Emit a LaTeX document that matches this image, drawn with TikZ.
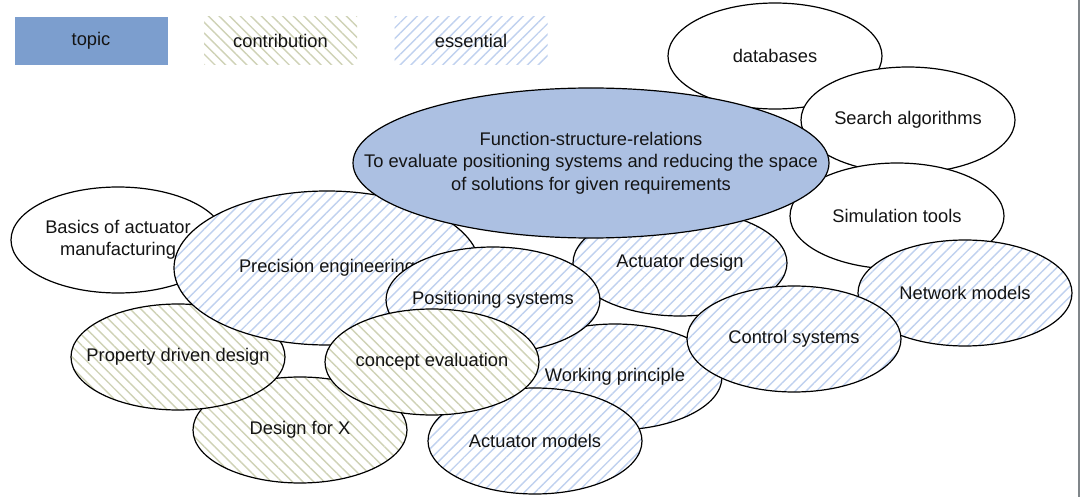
\documentclass[tikz,border=0pt]{standalone}
\usepackage{fontspec}
\setmainfont{Liberation Sans}
\usetikzlibrary{shapes.geometric,patterns.meta}
\definecolor{topicblue}{RGB}{124,158,206}
\definecolor{mainblue}{RGB}{172,192,226}
\definecolor{hatchblue}{RGB}{192,209,239}
\definecolor{hatcholive}{RGB}{207,210,182}
\definecolor{txt}{RGB}{20,20,20}
\definecolor{edgegray}{RGB}{128,134,138}
\begin{document}
\begin{tikzpicture}[x=1pt,y=-1pt,
  every node/.style={font=\fontsize{18.3}{22.5}\selectfont, text=txt, align=center, inner sep=0pt},
  esshatch/.style={preaction={fill=white}, pattern={Lines[angle=45,distance=7.5pt,line width=1.4pt]}, pattern color=hatchblue},
  contrhatch/.style={preaction={fill=white}, pattern={Lines[angle=-45,distance=7.5pt,line width=1.4pt]}, pattern color=hatcholive},
  bub/.style={ellipse, draw=black, line width=1.2pt, inner xsep=-200pt, inner ysep=-60pt, minimum width=214pt, minimum height=106pt},
  plainbub/.style={bub, fill=white},
  essbub/.style={bub, esshatch},
  contrbub/.style={bub, contrhatch},
  legendbox/.style={rectangle, minimum width=153pt, minimum height=48pt},
]
\useasboundingbox (0,0) rectangle (1080,497);
% legend
\node[legendbox, fill=topicblue] (lgtopic) at (91,41) {topic};
\node[legendbox, contrhatch] (lgcontr) at (280.5,41) {contribution};
\node[legendbox, esshatch] (lgess) at (471,41) {essential};
% bubbles, bottom to top
\node[plainbub] (basics) at (118,240) {Basics of actuator\\manufacturing};
\node[contrbub] (dfx) at (300,430) {Design for X};
\node[contrbub] (pdd) at (178,357) {Property driven design};
\node[essbub, minimum width=306pt, minimum height=154pt] (prec) at (327,268) {Precision engineering};
\node[plainbub] (db) at (775,56) {databases};
\node[plainbub] (search) at (908,120) {Search algorithms};
\node[plainbub] (sim) at (897,216) {Simulation tools};
\node[essbub] (net) at (965,293) {Network models};
\node[essbub] (actd) at (680,263) {Actuator design};
\node[essbub] (work) at (615,377) {Working principle};
\node[essbub] (ctrl) at (794,339) {Control systems};
\node[essbub] (pos) at (493,300) {Positioning systems};
\node[essbub] (actm) at (535,441) {Actuator models};
\node[contrbub] (concept) at (432,362) {concept evaluation};
\node[bub, fill=mainblue, minimum width=476pt, minimum height=150pt] (func) at (591,163)
  {Function-structure-relations\\To evaluate positioning systems and reducing the space\\of solutions for given requirements};
% right edge line
\coordinate (edgetop) at (1079.2,0);
\coordinate (edgebot) at (1079.2,497);
\draw[edgegray, line width=1.6pt] (edgetop) -- (edgebot);
\end{tikzpicture}
\end{document}
